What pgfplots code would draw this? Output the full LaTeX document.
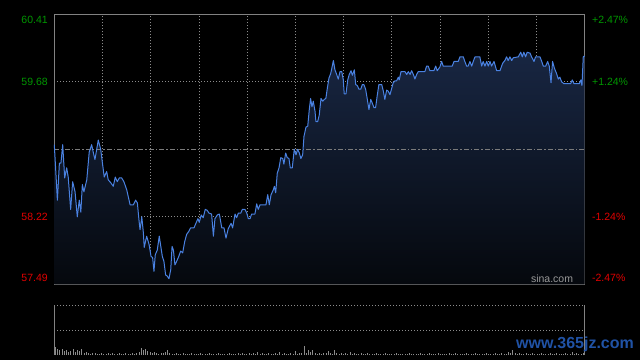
\documentclass[border=0pt]{standalone}
\usepackage{pgfplots}
\pgfplotsset{compat=1.18}
\usepackage{pgfplotstable}
\usepackage{fontspec}
\setmainfont{Liberation Sans}
\definecolor{linecol}{RGB}{74,130,226}
\definecolor{filltop}{RGB}{24,38,66}
\definecolor{fillbot}{RGB}{5,8,13}
\definecolor{upgreen}{RGB}{0,150,0}
\definecolor{downred}{RGB}{225,0,0}
\definecolor{gridcol}{RGB}{140,140,140}
\definecolor{bordercol}{RGB}{130,130,130}
\definecolor{volcol}{RGB}{140,140,140}
\definecolor{wmblue}{RGB}{32,82,165}

\pgfplotstableread{
m p
0 59.00
1.4 58.40
2.3 58.80
3.0 58.80
3.8 59.00
4.7 58.64
5.6 58.75
6.3 58.65
7.4 58.30
8.3 58.60
9.4 58.49
10.4 58.22
11.3 58.40
12.0 58.27
12.7 58.57
13.4 58.49
14.7 58.62
15.8 58.92
16.9 59.00
17.7 58.91
18.4 58.84
19.9 59.05
21.0 58.95
21.9 58.78
22.6 58.65
23.7 58.71
24.4 58.62
25.5 58.59
26.7 58.55
27.6 58.65
28.5 58.60
29.4 58.64
30.5 58.64
31.5 58.60
32.8 58.51
34.3 58.35
35.8 58.35
36.8 58.40
37.6 58.37
38.3 58.19
38.8 58.08
39.6 58.22
40.3 58.05
40.7 57.89
41.8 58.01
42.9 57.92
43.8 57.79
44.5 57.78
45.1 57.63
45.7 57.81
46.6 57.86
47.5 58.01
48.2 57.90
48.9 57.79
49.6 57.74
50.4 57.59
51.1 57.58
51.9 57.55
52.7 57.65
53.3 57.90
53.9 57.86
54.6 57.70
55.4 57.74
56.3 57.79
57.2 57.85
58.1 57.83
59.0 57.95
59.9 58.03
60.8 58.06
61.7 58.10
63.2 58.10
64.1 58.15
65.0 58.20
65.6 58.16
66.5 58.24
67.4 58.21
68.3 58.30
69.2 58.29
70.0 58.26
71.2 58.25
72.0 58.01
72.7 58.20
73.8 58.24
74.7 58.25
75.8 58.10
76.8 58.10
77.7 57.99
78.7 58.09
80.0 58.15
80.7 58.10
81.8 58.25
82.5 58.21
83.3 58.26
84.4 58.26
85.1 58.30
86.3 58.30
87.1 58.26
87.8 58.20
88.6 58.20
89.3 58.25
90.8 58.25
91.6 58.36
92.3 58.30
93.1 58.35
95.8 58.35
96.6 58.46
97.3 58.35
98.1 58.46
99.1 58.51
99.6 58.55
100.2 58.48
100.9 58.69
101.7 58.75
102.5 58.86
103.4 58.85
103.9 58.79
104.7 58.91
105.4 58.86
106.2 58.85
106.8 58.75
107.7 58.75
108.6 58.95
109.4 58.89
110.1 58.95
110.9 58.91
111.6 58.85
112.4 58.89
113.0 59.09
113.9 59.19
114.7 59.20
115.4 59.38
116.0 59.50
116.6 59.41
117.2 59.47
118.0 59.36
118.4 59.25
119.2 59.25
119.9 59.32
120.7 59.50
121.5 59.47
122.2 59.49
122.9 59.50
123.5 59.60
124.3 59.72
125.1 59.77
125.8 59.85
126.3 59.91
127.0 59.81
127.8 59.76
128.5 59.71
129.3 59.79
130.1 59.79
130.8 59.70
131.2 59.55
132.0 59.55
132.8 59.70
133.5 59.76
134.3 59.80
134.9 59.75
135.8 59.81
136.4 59.65
137.1 59.64
137.9 59.60
138.7 59.60
139.4 59.65
140.1 59.65
140.9 59.60
141.6 59.50
142.4 59.38
143.2 59.49
143.9 59.45
144.7 59.40
145.4 59.40
146.2 59.54
146.9 59.65
148.2 59.65
148.9 59.58
149.6 59.49
150.4 59.59
151.1 59.58
151.9 59.54
152.7 59.61
153.4 59.67
154.2 59.69
154.9 59.69
155.7 59.73
156.1 59.70
156.9 59.79
158.7 59.79
159.5 59.76
160.2 59.79
161.0 59.76
161.7 59.80
162.5 59.76
163.2 59.71
164.0 59.76
164.7 59.79
167.7 59.79
168.5 59.85
169.2 59.85
170.0 59.80
171.8 59.80
172.6 59.85
173.3 59.80
174.5 59.84
175.3 59.90
176.0 59.85
180.1 59.85
180.9 59.90
182.8 59.90
183.6 59.95
185.1 59.95
185.8 59.90
186.6 59.85
187.3 59.85
188.1 59.90
188.9 59.85
189.6 59.90
190.4 59.95
192.6 59.95
193.4 59.85
194.1 59.90
194.9 59.85
195.7 59.90
196.4 59.85
197.2 59.90
197.9 59.85
199.0 59.90
200.2 59.80
201.7 59.80
202.9 59.88
203.9 59.91
204.7 59.95
205.4 59.91
206.2 59.95
207.0 59.91
207.7 59.94
210.0 59.95
211.1 60.00
211.8 59.95
212.5 60.00
213.3 59.95
214.0 60.00
215.3 59.99
216.0 59.95
217.1 59.90
217.8 59.95
219.8 59.95
220.6 59.90
221.3 59.85
222.4 59.85
223.3 59.90
224.0 59.85
224.8 59.67
225.5 59.90
226.3 59.83
227.3 59.77
228.1 59.71
228.8 59.73
229.6 59.68
230.6 59.66
233.7 59.66
234.4 59.70
235.2 59.66
237.6 59.66
238.3 59.70
238.8 59.64
239.4 59.95
240 59.96
}\price

\pgfplotstableread[row sep=\\]{v\\
8\\6\\5\\6\\4\\5\\3\\4\\6\\3\\
5\\4\\6\\2\\3\\2\\1\\2\\2\\1\\
1\\2\\1\\1\\2\\1\\2\\1\\1\\2\\
1\\1\\2\\1\\1\\2\\1\\2\\3\\7\\
5\\6\\4\\3\\2\\3\\2\\1\\2\\2\\
3\\5\\2\\1\\1\\2\\1\\1\\2\\1\\
1\\1\\2\\1\\1\\1\\2\\1\\1\\1\\
2\\1\\1\\1\\2\\1\\1\\1\\1\\2\\
1\\1\\1\\2\\1\\2\\1\\1\\2\\1\\
2\\1\\3\\1\\2\\1\\1\\2\\1\\1\\
2\\1\\3\\1\\2\\1\\1\\2\\1\\4\\
1\\2\\2\\9\\2\\5\\3\\5\\2\\1\\
2\\1\\2\\2\\4\\2\\1\\5\\2\\1\\
2\\1\\2\\1\\3\\1\\2\\1\\1\\2\\
1\\1\\2\\1\\1\\1\\2\\1\\1\\1\\
2\\1\\1\\1\\1\\2\\1\\1\\1\\1\\
1\\2\\1\\1\\1\\1\\2\\1\\1\\1\\
2\\1\\1\\1\\2\\1\\1\\1\\1\\2\\
1\\1\\2\\1\\1\\1\\1\\2\\1\\1\\
1\\2\\1\\1\\1\\1\\2\\1\\1\\1\\
2\\1\\1\\2\\1\\1\\3\\2\\5\\2\\
1\\2\\1\\1\\2\\1\\1\\2\\1\\1\\
1\\2\\1\\1\\1\\2\\1\\1\\2\\1\\
1\\1\\2\\1\\1\\3\\1\\2\\1\\1\\2\\
}\vol

\begin{document}
\begin{tikzpicture}
\fill[black] (0,0) rectangle (640pt,360pt);
\useasboundingbox (0,0) rectangle (640pt,360pt);

% main price panel
\begin{axis}[
  at={(54.3pt,75.7pt)}, anchor=south west,
  scale only axis, width=530.3pt, height=270pt,
  xmin=0, xmax=240, ymin=57.49, ymax=60.41,
  axis line style={draw=bordercol, line width=0.9pt},
  xtick={21.818,43.636,65.455,87.273,109.091,130.909,152.727,174.545,196.364,218.182},
  ytick={58.22,59.68},
  xticklabels={}, yticklabels={},
  major tick length=0pt,
  xmajorgrids, ymajorgrids,
  grid style={draw=gridcol, line width=0.8pt, dash pattern=on 1pt off 2pt},
  clip=false,
]
\addplot[draw=none, top color=filltop, bottom color=fillbot] table[x=m,y=p] {\price} \closedcycle;
\addplot[draw=gridcol!115, line width=0.8pt, dash pattern=on 5pt off 2pt on 1.5pt off 2pt] coordinates {(0,58.95) (240,58.95)};
\addplot[draw=linecol, line width=1pt, line join=round] table[x=m,y=p] {\price};

\node[anchor=east, text=upgreen, font=\fontsize{10.5}{12}\selectfont] at (rel axis cs:0,1) [xshift=-3pt, yshift=-6pt] {60.41};
\node[anchor=east, text=upgreen, font=\fontsize{10.5}{12}\selectfont] at (axis cs:0,59.68) [xshift=-3pt] {59.68};
\node[anchor=east, text=downred, font=\fontsize{10.5}{12}\selectfont] at (axis cs:0,58.22) [xshift=-3pt] {58.22};
\node[anchor=east, text=downred, font=\fontsize{10.5}{12}\selectfont] at (rel axis cs:0,0) [xshift=-3pt, yshift=6.5pt] {57.49};
\node[anchor=west, text=upgreen, font=\fontsize{10.5}{12}\selectfont] at (rel axis cs:1,1) [xshift=4pt, yshift=-6pt] {+2.47\%};
\node[anchor=west, text=upgreen, font=\fontsize{10.5}{12}\selectfont] at (axis cs:240,59.68) [xshift=4pt] {+1.24\%};
\node[anchor=west, text=downred, font=\fontsize{10.5}{12}\selectfont] at (axis cs:240,58.22) [xshift=4pt] {-1.24\%};
\node[anchor=west, text=downred, font=\fontsize{10.5}{12}\selectfont] at (rel axis cs:1,0) [xshift=4pt, yshift=6.5pt] {-2.47\%};
\node[anchor=east, text=gray!80!white, font=\fontsize{10.5}{12}\selectfont] at (rel axis cs:1,0) [xshift=-8pt, yshift=5.5pt] {sina.com};
\end{axis}

% volume panel
\begin{axis}[
  at={(54.3pt,5pt)}, anchor=south west,
  scale only axis, width=530pt, height=50pt,
  xmin=-0.5, xmax=240.5, ymin=0, ymax=50,
  axis lines=none,
  clip=false,
]
\addplot[ycomb, draw=volcol, line width=0.8pt, mark=none] table[x expr=\coordindex, y=v] {\vol};
\draw[draw=gridcol, line width=0.8pt, dash pattern=on 1pt off 2pt] (rel axis cs:0,1) -- (rel axis cs:1,1);
\draw[draw=gridcol, line width=0.8pt, dash pattern=on 1pt off 2pt] (rel axis cs:0,0.5) -- (rel axis cs:1,0.5);
\draw[draw=bordercol, line width=0.9pt] (rel axis cs:0,1) -- (rel axis cs:0,0);
\draw[draw=bordercol, line width=0.9pt] (rel axis cs:1,1) -- (rel axis cs:1,0);
\end{axis}

\node[anchor=center, text=wmblue, font=\fontsize{16}{18}\selectfont\bfseries] at (575pt,16pt) {www.365jz.com};
\end{tikzpicture}
\end{document}
